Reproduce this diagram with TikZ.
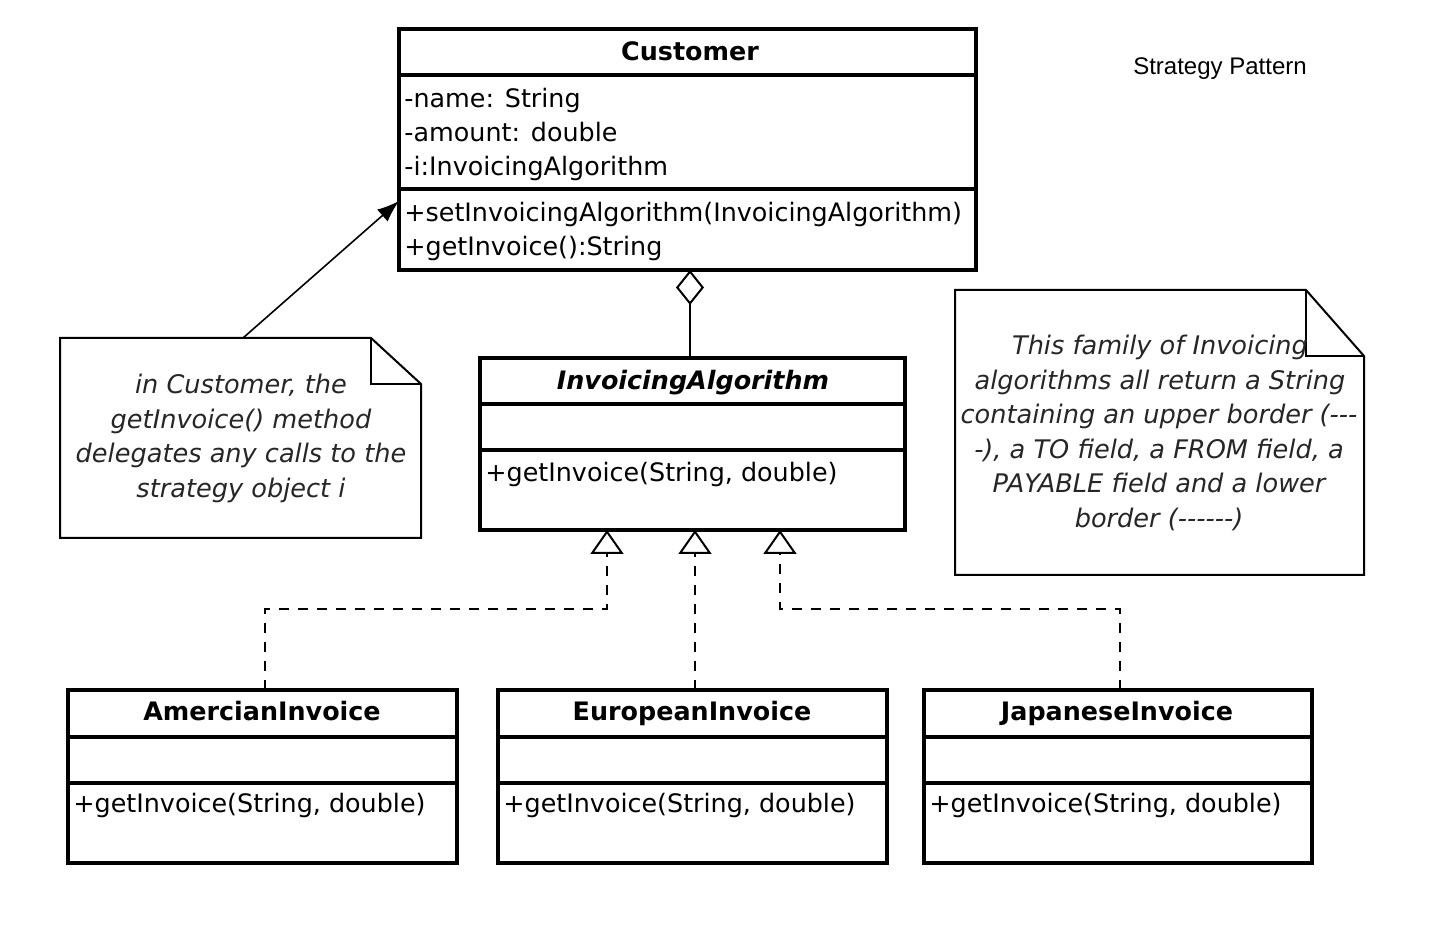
\documentclass[tikz,border=0pt]{standalone}
\usepackage{fontspec}
\setmainfont{DejaVu Sans}
\newfontfamily\titlefont{Liberation Sans}
\usetikzlibrary{arrows.meta}
\begin{document}
\begin{tikzpicture}[x=0.5pt,y=-0.5pt,
  box/.style={draw, line width=2pt, anchor=north west, inner sep=0pt, outer sep=0pt},
  div/.style={line width=2pt},
  ttl/.style={font=\fontsize{12.7}{15}\selectfont\bfseries, inner sep=0pt, text height=12.5pt, text depth=2.7pt},
  txt/.style={font=\fontsize{12.7}{15}\selectfont, inner sep=0pt, anchor=west, text height=12.5pt, text depth=2.7pt},
  notetxt/.style={font=\fontsize{12.8}{15}\selectfont\itshape, inner sep=0pt, text=black!85, text height=12.5pt, text depth=2.7pt},
  note/.style={draw, line width=1pt, line join=miter},
  real/.style={line width=1pt, dash pattern=on 5pt off 4.5pt, -{Triangle[open, length=12pt, width=16.5pt, line width=1pt]}},
]
\useasboundingbox[fill=white] (0,0) rectangle (1437,929);

% ---------- Customer ----------
\node[box, minimum width=288.5pt, minimum height=120.5pt] (cust) at (399,29) {};
\draw[div] (cust.west |- 0,75) -- (cust.east |- 0,75);
\draw[div] (cust.west |- 0,189) -- (cust.east |- 0,189);
\node[ttl] (custt) at (690,51) {Customer};
\node[txt] (ca1) at (404,98) {-name: String};
\node[txt] (ca2) at (404,132) {-amount: double};
\node[txt] (ca3) at (404,166) {-i:InvoicingAlgorithm};
\node[txt] (cm1) at (404,212) {+setInvoicingAlgorithm(InvoicingAlgorithm)};
\node[txt] (cm2) at (404,246) {+getInvoice():String};

% ---------- InvoicingAlgorithm ----------
\node[box, minimum width=212.5pt, minimum height=86pt] (ia) at (480,358) {};
\draw[div] (ia.west |- 0,404) -- (ia.east |- 0,404);
\draw[div] (ia.west |- 0,450) -- (ia.east |- 0,450);
\node[ttl, font=\fontsize{12.7}{15}\selectfont\bfseries\itshape] (iat) at (693,380) {InvoicingAlgorithm};
\node[txt] (iam) at (485,472) {+getInvoice(String, double)};

% ---------- concrete classes ----------
\node[box, minimum width=194.5pt, minimum height=86.5pt] (amer) at (68,690) {};
\draw[div] (amer.west |- 0,737) -- (amer.east |- 0,737);
\draw[div] (amer.west |- 0,783) -- (amer.east |- 0,783);
\node[ttl] (amert) at (262,711) {AmercianInvoice};
\node[txt] (amerm) at (73,803) {+getInvoice(String, double)};

\node[box, minimum width=194.5pt, minimum height=86.5pt] (euro) at (498,690) {};
\draw[div] (euro.west |- 0,737) -- (euro.east |- 0,737);
\draw[div] (euro.west |- 0,783) -- (euro.east |- 0,783);
\node[ttl] (eurot) at (692,711) {EuropeanInvoice};
\node[txt] (eurom) at (503,803) {+getInvoice(String, double)};

\node[box, minimum width=194pt, minimum height=86.5pt] (jap) at (924,690) {};
\draw[div] (jap.west |- 0,737) -- (jap.east |- 0,737);
\draw[div] (jap.west |- 0,783) -- (jap.east |- 0,783);
\node[ttl] (japt) at (1117,711) {JapaneseInvoice};
\node[txt] (japm) at (929,803) {+getInvoice(String, double)};

% ---------- connectors ----------
\draw[line width=1pt, -{Diamond[open, length=17.5pt, width=14pt, line width=1pt]}]
  (ia.north -| 690,0) -- (cust.south -| 690,0);

\draw[real] (amer.north -| 265,0) |- (607,609) -- (ia.south -| 607,0);
\draw[real] (euro.north -| 695,0) -- (ia.south -| 695,0);
\draw[real] (jap.north -| 1120,0) |- (780,609) -- (ia.south -| 780,0);

% ---------- left note ----------
\draw[note] (60,338) -- (371,338) -- (421,384) -- (421,538) -- (60,538) -- cycle;
\draw[note] (371,338) -- (371,384) -- (421,384);
\coordinate (n1top) at (243,338);
\node[notetxt] (n1a) at (241,384) {in Customer, the};
\node[notetxt] (n1b) at (241,419) {getInvoice() method};
\node[notetxt] (n1c) at (241,453) {delegates any calls to the};
\node[notetxt] (n1d) at (241,488) {strategy object i};
\draw[line width=0.8pt, -{Latex[length=11pt, width=8pt]}] (n1top) -- (cust.west |- 0,201);

% ---------- right note ----------
\draw[note] (955,290) -- (1306,290) -- (1364,356) -- (1364,575) -- (955,575) -- cycle;
\draw[note] (1306,290) -- (1306,356) -- (1364,356);
\node[notetxt] (n2a) at (1160,345) {This family of Invoicing};
\node[notetxt] (n2b) at (1160,380) {algorithms all return a String};
\node[notetxt] (n2c) at (1159,414) {containing an upper border (-{}-{}-};
\node[notetxt] (n2d) at (1159,449) {-), a TO field, a FROM field, a};
\node[notetxt] (n2e) at (1159,483) {PAYABLE field and a lower};
\node[notetxt] (n2f) at (1159,518) {border (-{}-{}-{}-{}-{}-)};

% ---------- title ----------
\node[font=\titlefont\fontsize{12}{14}\selectfont, inner sep=0pt] (title) at (1220,69) {Strategy Pattern};
\end{tikzpicture}
\end{document}
